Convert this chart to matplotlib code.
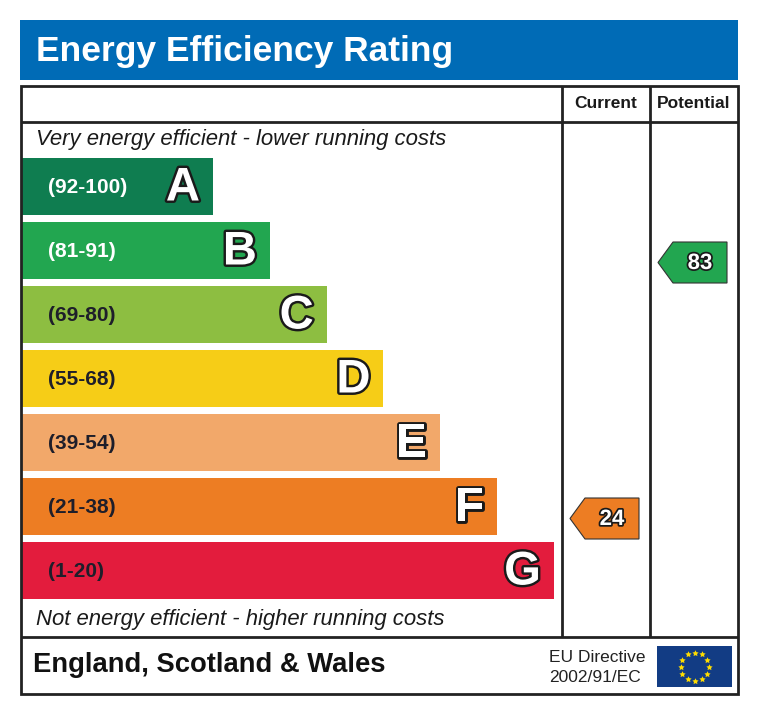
import matplotlib
matplotlib.use("Agg")
import matplotlib.pyplot as plt
from matplotlib.patches import Rectangle, Polygon
import matplotlib.patheffects as pe
import numpy as np

# ---- data ----
bands = ["A", "B", "C", "D", "E", "F", "G"]
ranges = ["(92-100)", "(81-91)", "(69-80)", "(55-68)", "(39-54)", "(21-38)", "(1-20)"]
band_low = [92, 81, 69, 55, 39, 21, 1]
band_colors = ["#0f7d50", "#22a650", "#8dbe41", "#f6cd17", "#f2a86a", "#ed7d23", "#e31c3d"]
range_text_colors = ["white", "white", "#1e1e2a", "#1e1e2a", "#1e1e2a", "#1e1e2a", "#1e1e2a"]
current_rating = 24
potential_rating = 83
title = "Energy Efficiency Rating"
top_note = "Very energy efficient - lower running costs"
bottom_note = "Not energy efficient - higher running costs"
footer = "England, Scotland & Wales"
directive = ["EU Directive", "2002/91/EC"]
col_heads = ["Current", "Potential"]

FONT = "Liberation Sans"
plt.rcParams['font.family'] = [FONT, 'DejaVu Sans']

fig = plt.figure(figsize=(7.6, 7.15), dpi=100)
ax = fig.add_axes([0, 0, 1, 1])
ax.set_xlim(0, 760)
ax.set_ylim(715, 0)
ax.axis('off')

# header band
ax.add_patch(Rectangle((20, 20), 718, 60, facecolor="#006bb6", edgecolor="none"))
ax.text(36, 52, title, color="white", fontsize=25.5, fontweight="bold",
        va="center", ha="left")

line_kw = dict(color="#222222", lw=2, solid_capstyle="butt", zorder=4)
# outer frame
ax.add_patch(Rectangle((21, 86), 717, 608, facecolor="none", edgecolor="#222222", lw=2, zorder=4))
ax.plot([21, 738], [122, 122], **line_kw)
ax.plot([21, 738], [637, 637], **line_kw)
ax.plot([562, 562], [86, 637], **line_kw)
ax.plot([650, 650], [86, 637], **line_kw)

ax.text(606, 104, col_heads[0], fontsize=12.5, fontweight="bold", ha="center", va="center", color="#1a1a1a")
ax.text(694, 104, col_heads[1], fontsize=12.5, fontweight="bold", ha="center", va="center", color="#1a1a1a")

ax.text(36, 140, top_note, fontsize=15.9, fontstyle="italic", ha="left", va="center", color="#1a1a1a")
ax.text(36, 619, bottom_note, fontsize=15.9, fontstyle="italic", ha="left", va="center", color="#1a1a1a")

top0, pitch, h = 158, 64, 57
x0 = 21
for i, (b, r, c, tc) in enumerate(zip(bands, ranges, band_colors, range_text_colors)):
    y = top0 + i * pitch
    xend = 213 + i * 56.8
    ax.add_patch(Rectangle((x0, y), xend - x0, h, facecolor=c, edgecolor="none", zorder=2))
    ax.text(48, y + h / 2 + 1, r, fontsize=15, fontweight="bold", color=tc, ha="left", va="center", zorder=3)
    ax.text(xend - 13, y + h / 2 + 2, b, fontsize=34, fontweight="bold", color="white",
            ha="right", va="center", zorder=3,
            path_effects=[pe.Stroke(linewidth=3.5, foreground="#1a1a1a"), pe.Normal()])


def band_index(v):
    for i, lo in enumerate(band_low):
        if v >= lo:
            return i
    return len(band_low) - 1


def arrow(v, xl, xr):
    i = band_index(v)
    yc = top0 + i * pitch + h / 2 + 12
    hh = 41
    tip = 15
    pts = [(xl, yc), (xl + tip, yc - hh / 2), (xr, yc - hh / 2), (xr, yc + hh / 2), (xl + tip, yc + hh / 2)]
    ax.add_patch(Polygon(pts, closed=True, facecolor=band_colors[i], edgecolor="#333333", lw=0.8, zorder=3))
    ax.text((xl + tip + xr) / 2, yc + 1, str(v), fontsize=16, fontweight="bold", color="white",
            ha="center", va="center", zorder=5,
            path_effects=[pe.Stroke(linewidth=2.5, foreground="#1a1a1a"), pe.Normal()])


arrow(current_rating, 570, 639)
arrow(potential_rating, 658, 727)

# footer
ax.text(33, 665, footer, fontsize=19.7, fontweight="bold", ha="left", va="center", color="#111111")
ax.text(549, 657, directive[0], fontsize=12.5, ha="left", va="center", color="#222222")
ax.text(549, 678, directive[1], fontsize=12.5, ha="left", va="center", color="#222222")

# EU flag
ax.add_patch(Rectangle((657, 646), 75, 41, facecolor="#123c84", edgecolor="none"))
cx, cy, rad = 694.5, 666.5, 14
ang = np.arange(12) * np.pi / 6
ax.scatter(cx + rad * np.cos(ang), cy + rad * np.sin(ang), marker=(5, 1, 0), s=22,
           color="#ffdd00", linewidths=0, zorder=5)

fig.savefig("out.png", dpi=100)
